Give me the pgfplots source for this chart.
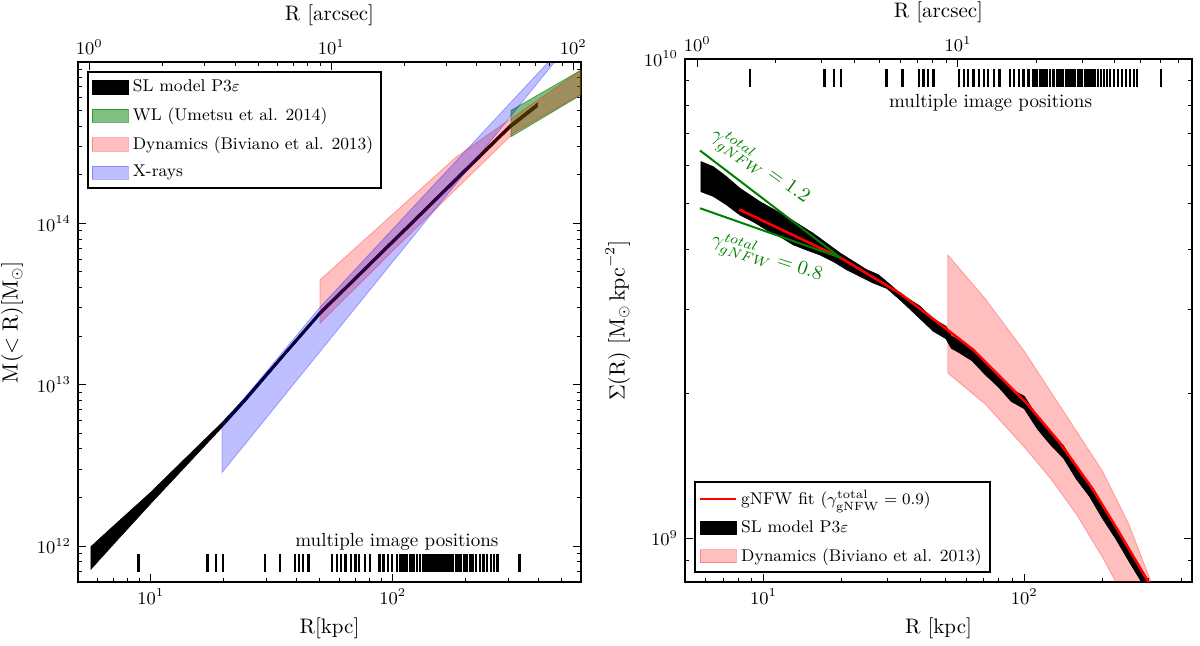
\documentclass[border=0pt]{standalone}
\usepackage{pgfplots}
\usepackage{pgfplotstable}
\pgfplotsset{compat=1.18}
\definecolor{mplgreen}{RGB}{0,128,0}

\pgfplotsset{
  mypatch/.style={legend image code/.code={\draw[##1,line width=0.4pt] (0pt,-3.3pt) rectangle (18pt,3.3pt);}},
  myline/.style={legend image code/.code={\draw[##1] (0pt,0pt) -- (18pt,0pt);}},
  mypanel/.style={
    scale only axis,
    tick align=inside, major tick length=4pt, minor tick length=2pt,
    axis line style={line width=1pt}, tick style={black, line width=0.5pt},
    font=\fontsize{9}{11}\selectfont,
    label style={font=\fontsize{10.5}{12}\selectfont},
    legend cell align=left,
    legend style={font=\fontsize{8.5}{10}\selectfont, draw=black, line width=1pt,
      inner sep=2pt, row sep=2.5pt},
  },
}

% multiple image positions [kpc], with the heights of the bars in each panel
\pgfplotstableread{
R yl yr
8.89 7.87e11 9.11e9
17.14 7.87e11 9.11e9
18.66 7.87e11 9.11e9
19.82 7.87e11 9.11e9
29.65 7.87e11 9.11e9
34.12 7.87e11 9.11e9
39.54 7.87e11 9.11e9
41.11 7.87e11 9.11e9
42.66 7.87e11 9.11e9
44.87 7.87e11 9.11e9
56.23 7.87e11 9.11e9
58.88 7.87e11 9.11e9
60.95 7.87e11 9.11e9
63.83 7.87e11 9.11e9
66.99 7.87e11 9.11e9
70.15 7.87e11 9.11e9
72.44 7.87e11 9.11e9
76.56 7.87e11 9.11e9
80.35 7.87e11 9.11e9
88.10 7.87e11 9.11e9
91.62 7.87e11 9.11e9
95.50 7.87e11 9.11e9
99.31 7.87e11 9.11e9
103.8 7.87e11 9.11e9
107.7 7.87e11 9.11e9
110.2 7.87e11 9.11e9
112.2 7.87e11 9.11e9
114.8 7.87e11 9.11e9
117.5 7.87e11 9.11e9
119.7 7.87e11 9.11e9
122.5 7.87e11 9.11e9
125.9 7.87e11 9.11e9
129.4 7.87e11 9.11e9
133.4 7.87e11 9.11e9
136.5 7.87e11 9.11e9
138.7 7.87e11 9.11e9
141.3 7.87e11 9.11e9
144.5 7.87e11 9.11e9
147.2 7.87e11 9.11e9
149.6 7.87e11 9.11e9
153.1 7.87e11 9.11e9
156.7 7.87e11 9.11e9
160.3 7.87e11 9.11e9
162.9 7.87e11 9.11e9
166.7 7.87e11 9.11e9
170.6 7.87e11 9.11e9
173.8 7.87e11 9.11e9
177.8 7.87e11 9.11e9
182.8 7.87e11 9.11e9
187.1 7.87e11 9.11e9
191.4 7.87e11 9.11e9
197.2 7.87e11 9.11e9
201.8 7.87e11 9.11e9
208.0 7.87e11 9.11e9
213.8 7.87e11 9.11e9
221.3 7.87e11 9.11e9
229.1 7.87e11 9.11e9
237.1 7.87e11 9.11e9
245.5 7.87e11 9.11e9
254.1 7.87e11 9.11e9
263.0 7.87e11 9.11e9
271.0 7.87e11 9.11e9
334.2 7.87e11 9.11e9
}\imgpos

\begin{document}
\begin{tikzpicture}
\path[use as bounding box] (0,0) rectangle (600pt,323pt);

% ---------------- left panel: M(<R) ----------------
\begin{axis}[xmode=log, ymode=log, mypanel, at={(39pt,32pt)}, width=251.5pt, height=260pt,
  xmin=5, xmax=600, ymin=6e11, ymax=1e15,
  xtick pos=left,
  ytick={1e12,1e13,1e14},
  minor ytick={7e11,8e11,9e11,2e12,3e12,4e12,5e12,6e12,7e12,8e12,9e12,
    2e13,3e13,4e13,5e13,6e13,7e13,8e13,9e13,2e14,3e14,4e14,5e14,6e14,7e14,8e14,9e14},
  xlabel={R[kpc]}, ylabel={$\mathrm{M}(<\mathrm{R})[\mathrm{M}_{\odot}]$},
  legend style={at={(0.018,0.983)}, anchor=north west}]
\addlegendimage{mypatch, fill=black, draw=black}
\addlegendentry{SL model P3$\varepsilon$}
\addlegendimage{mypatch, fill=mplgreen, fill opacity=0.5, draw=mplgreen, draw opacity=0.6}
\addlegendentry{WL (Umetsu et al. 2014)}
\addlegendimage{mypatch, fill=red, fill opacity=0.25, draw=red, draw opacity=0.3}
\addlegendentry{Dynamics (Biviano et al. 2013)}
\addlegendimage{mypatch, fill=blue, fill opacity=0.25, draw=blue, draw opacity=0.3}
\addlegendentry{X-rays}

% SL model band
\addplot[forget plot, fill=black, draw=black, line width=0.3pt] coordinates {
(5.65,9.93e11) (7.08,1.352e12) (10,2.16e12) (14.1,3.58e12) (19.7,5.83e12)
(24.5,8.30e12) (35,1.54e13) (50,2.85e13) (107,8.75e13) (200,2.20e14)
(305,4.09e14) (397,5.57e14)
(397,5.27e14) (305,3.87e14) (200,2.08e14) (107,8.28e13) (50,2.70e13)
(35,1.46e13) (24.5,7.82e12) (19.7,5.45e12) (14.1,3.19e12) (10,1.84e12)
(7.08,1.045e12) (5.65,7.19e11) (5.65,9.93e11)};

% WL
\addplot[forget plot, fill=mplgreen, fill opacity=0.5, draw=mplgreen, draw opacity=0.6] coordinates {
(308,3.44e14) (308,5.0e14) (600,8.9e14) (600,6.25e14) (308,3.44e14)};

% Dynamics
\addplot[forget plot, fill=red, fill opacity=0.25, draw=red, draw opacity=0.3] coordinates {
(50,4.46e13) (183.6,2.59e14) (316,4.57e14) (600,8.9e14)
(600,6.31e14) (316,3.63e14) (200,1.86e14) (100,6.76e13) (50,2.40e13)
(50,4.46e13)};

% X-rays
\addplot[forget plot, fill=blue, fill opacity=0.25, draw=blue, draw opacity=0.3] coordinates {
(19.7,5.64e12) (50,3.02e13) (305,5.55e14) (480,1.15e15) (540,1.31e15)
(19.7,2.86e12) (19.7,5.64e12)};

% multiple image positions
\addplot[forget plot, only marks, mark=|, mark size=4.5pt, mark options={line width=1.1pt, black}]
  table[x=R, y=yl] {\imgpos};
\node[font=\fontsize{9.5}{11}\selectfont] at (axis cs:104,1.07e12) {multiple image positions};
\end{axis}

\begin{axis}[xmode=log, scale only axis, at={(39pt,32pt)}, width=251.5pt, height=260pt,
  xmin=0.8977, xmax=107.7, ymin=0, ymax=1,
  axis x line*=top, hide y axis,
  tick align=inside, major tick length=4pt, minor tick length=2pt,
  axis line style={line width=1pt}, tick style={black, line width=0.5pt},
  font=\fontsize{9}{11}\selectfont,
  label style={font=\fontsize{10.5}{12}\selectfont},
  xlabel={R [arcsec]}]
\addplot[draw=none] coordinates {(1,0.5)};
\end{axis}

% ---------------- right panel: Sigma(R) ----------------
\begin{axis}[xmode=log, ymode=log, mypanel, at={(342.5pt,32pt)}, width=253.5pt, height=261.5pt,
  xmin=5, xmax=440, ymin=8.1e8, ymax=1e10,
  xtick pos=left,
  xlabel={R [kpc]}, ylabel={$\Sigma(\mathrm{R})\ [\mathrm{M}_{\odot}\,\mathrm{kpc}^{-2}]$},
  legend style={at={(0.017,0.017)}, anchor=south west}]
\addlegendimage{myline, red, line width=1.3pt}
\addlegendentry{gNFW fit ($\gamma^{\mathrm{total}}_{\mathrm{gNFW}} = 0.9$)}
\addlegendimage{mypatch, fill=black, draw=black}
\addlegendentry{SL model P3$\varepsilon$}
\addlegendimage{mypatch, fill=red, fill opacity=0.25, draw=red, draw opacity=0.3}
\addlegendentry{Dynamics (Biviano et al. 2013)}

% Dynamics
\addplot[forget plot, fill=red, fill opacity=0.25, draw=red, draw opacity=0.3] coordinates {
(50.9,3.90e9) (70.8,3.16e9) (100,2.455e9) (141.3,1.841e9) (199.5,1.380e9)
(251.2,1.072e9) (316.2,7.76e8) (340,7.0e8)
(260,7.0e8) (251.2,7.24e8) (199.5,9.12e8) (158.5,1.122e9) (125.9,1.334e9)
(100,1.549e9) (70.8,1.905e9) (50.9,2.21e9) (50.9,3.90e9)};

% SL model band
\addplot[forget plot, fill=black, draw=black, line width=0.3pt] coordinates {
(5.754,6.109e9) (6.427,5.957e9) (7.228,5.675e9) (8.128,5.370e9) (9.705,5.035e9)
(12.27,4.688e9) (15.52,4.325e9) (19.68,3.936e9) (24.89,3.631e9) (27.54,3.548e9)
(29.72,3.428e9) (33.42,3.243e9) (39.81,3.048e9) (44.67,2.871e9) (50.12,2.767e9)
(52.48,2.642e9) (56.23,2.588e9) (63.10,2.489e9) (70.79,2.328e9) (79.43,2.198e9)
(89.13,2.046e9) (100,1.977e9) (112.2,1.795e9) (125.9,1.663e9) (141.3,1.560e9)
(158.5,1.409e9) (177.8,1.297e9) (199.5,1.167e9) (223.9,1.059e9) (251.2,9.53e8)
(281.8,8.59e8) (316.2,7.78e8)
(316.2,7.33e8) (281.8,8.09e8) (251.2,8.97e8) (223.9,9.98e8) (199.5,1.099e9)
(177.8,1.222e9) (158.5,1.327e9) (141.3,1.469e9) (125.9,1.567e9) (112.2,1.690e9)
(100,1.862e9) (89.13,1.928e9) (79.43,2.070e9) (70.79,2.193e9) (63.10,2.344e9)
(56.23,2.438e9) (52.48,2.489e9) (50.12,2.606e9) (44.67,2.704e9) (39.81,2.871e9)
(33.42,3.141e9)
(29.72,3.319e9) (26.42,3.404e9) (23.44,3.516e9) (20.84,3.631e9) (18.54,3.776e9)
(16.48,3.899e9) (14.66,3.990e9) (13.00,4.093e9) (11.56,4.256e9) (10.28,4.395e9)
(9.141,4.571e9) (8.128,4.721e9) (7.228,4.955e9) (6.427,5.164e9) (5.754,5.284e9)
(5.754,6.109e9)};

% gNFW fit
\addplot[forget plot, red, line width=1.3pt] coordinates {
(8.07,4.85e9) (19.7,3.85e9) (33.4,3.24e9) (49,2.76e9) (63.8,2.47e9)
(80.8,2.17e9) (102.3,1.91e9) (137,1.58e9) (184,1.26e9) (233,1.02e9)
(296,8.18e8) (310,7.9e8)};

% gNFW with fixed inner slopes
\addplot[forget plot, mplgreen, line width=1pt] coordinates {(5.71,6.44e9) (19.7,3.85e9)};
\addplot[forget plot, mplgreen, line width=1pt] coordinates {(5.71,4.88e9) (19.7,3.85e9)};
\node[text=mplgreen, rotate=-35, font=\fontsize{10}{12}\selectfont] at (axis cs:9.7,5.96e9)
  {$\gamma^{total}_{gNFW} = 1.2$};
\node[text=mplgreen, rotate=-18, font=\fontsize{10}{12}\selectfont] at (axis cs:10.3,3.84e9)
  {$\gamma^{total}_{gNFW} = 0.8$};

% multiple image positions
\addplot[forget plot, only marks, mark=|, mark size=4.5pt, mark options={line width=1.1pt, black}]
  table[x=R, y=yr] {\imgpos};
\node[font=\fontsize{9.5}{11}\selectfont] at (axis cs:74.3,8.08e9) {multiple image positions};
\end{axis}

\begin{axis}[xmode=log, scale only axis, at={(342.5pt,32pt)}, width=253.5pt, height=261.5pt,
  xmin=0.8977, xmax=79.0, ymin=0, ymax=1,
  axis x line*=top, hide y axis,
  tick align=inside, major tick length=4pt, minor tick length=2pt,
  axis line style={line width=1pt}, tick style={black, line width=0.5pt},
  font=\fontsize{9}{11}\selectfont,
  label style={font=\fontsize{10.5}{12}\selectfont},
  xlabel={R [arcsec]}]
\addplot[draw=none] coordinates {(1,0.5)};
\end{axis}
\end{tikzpicture}
\end{document}
